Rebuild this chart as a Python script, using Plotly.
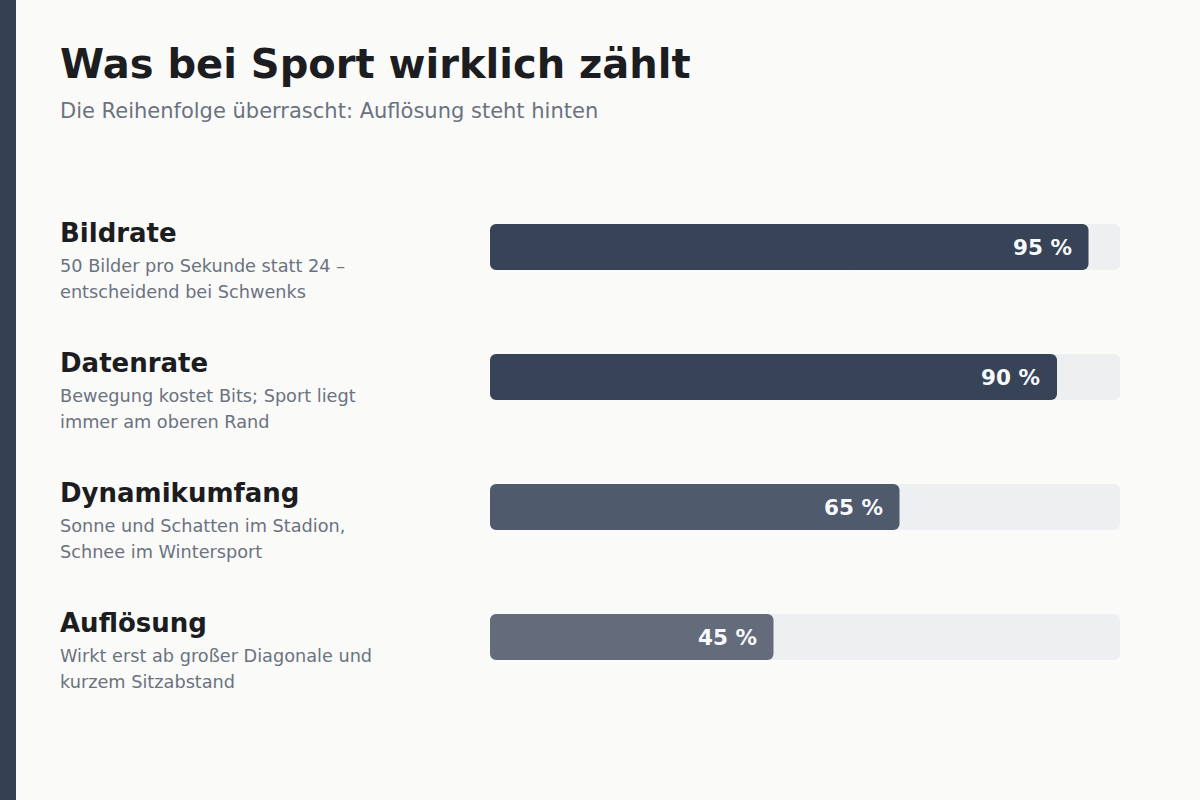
import plotly.graph_objects as go

# ---- data ----
categories = ["Bildrate", "Datenrate", "Dynamikumfang", "Auflösung"]
values = [95, 90, 65, 45]
descriptions = [
    ["50 Bilder pro Sekunde statt 24 –", "entscheidend bei Schwenks"],
    ["Bewegung kostet Bits; Sport liegt", "immer am oberen Rand"],
    ["Sonne und Schatten im Stadion,", "Schnee im Wintersport"],
    ["Wirkt erst ab großer Diagonale und", "kurzem Sitzabstand"],
]
track_max = 100
title_text = "Was bei Sport wirklich zählt"
subtitle_text = "Die Reihenfolge überrascht: Auflösung steht hinten"

# ---- styles ----
bar_colors = ["#374357", "#374357", "#4f5a6c", "#646c7c"]
track_color = "#eeeff1"
bg = "#fafaf9"
dark = "#1c1d20"
gray = "#6b7280"
FONT = "DejaVu Sans"
BAR_W = 0.354
TX = 58  # left text edge in px

W, H = 1200, 800

fig = go.Figure()


def add_rounded(xvals, colors):
    """Bars rounded on both ends: two overlapping halves growing outward."""
    right_base = [v * 0.4 for v in xvals]
    left_base = [v * 0.6 for v in xvals]
    fig.add_trace(go.Bar(
        y=categories, base=right_base, x=[v - b for v, b in zip(xvals, right_base)],
        orientation="h", marker=dict(color=colors, line=dict(width=0)),
        width=BAR_W, hoverinfo="skip", showlegend=False,
    ))
    fig.add_trace(go.Bar(
        y=categories, base=left_base, x=[-b for b in left_base],
        orientation="h", marker=dict(color=colors, line=dict(width=0)),
        width=BAR_W, hoverinfo="skip", showlegend=False,
    ))


add_rounded([track_max] * len(categories), [track_color] * len(categories))
add_rounded(values, bar_colors)

annotations = []
annotations.append(dict(
    text=f"<b>{title_text}</b>", xref="paper", yref="paper",
    x=TX / W, y=1 - 64 / H, xanchor="left", yanchor="middle",
    showarrow=False, font=dict(family=FONT, size=40, color=dark),
))
annotations.append(dict(
    text=subtitle_text, xref="paper", yref="paper",
    x=TX / W, y=1 - 111 / H, xanchor="left", yanchor="middle",
    showarrow=False, font=dict(family=FONT, size=21, color=gray),
))

for cat, val, desc in zip(categories, values, descriptions):
    annotations.append(dict(
        text=f"<b>{cat}</b>", xref="paper", yref="y",
        x=TX / W, y=cat, yshift=14, xanchor="left", yanchor="middle",
        showarrow=False, font=dict(family=FONT, size=26, color=dark),
    ))
    for i, line in enumerate(desc):
        annotations.append(dict(
            text=line, xref="paper", yref="y",
            x=TX / W, y=cat, yshift=-19 - 25.5 * i, xanchor="left", yanchor="middle",
            showarrow=False, font=dict(family=FONT, size=17.7, color=gray),
        ))
    annotations.append(dict(
        text=f"<b>{val} %</b>", xref="x", yref="y",
        x=val, y=cat, xshift=-15, xanchor="right", yanchor="middle",
        showarrow=False, font=dict(family=FONT, size=21.5, color="#f8f9fb"),
    ))

fig.update_layout(
    width=W, height=H,
    margin=dict(l=0, r=0, t=0, b=0),
    paper_bgcolor=bg, plot_bgcolor=bg,
    barmode="overlay", barcornerradius=6,
    xaxis=dict(domain=[490 / W, 1120 / W], range=[0, track_max],
               visible=False, fixedrange=True),
    yaxis=dict(domain=[1 - 702 / H, 1 - 182 / H], type="category",
               categoryorder="array", categoryarray=categories,
               autorange="reversed", visible=False, fixedrange=True),
    annotations=annotations,
    shapes=[dict(type="rect", xref="paper", yref="paper",
                 x0=0, x1=16 / W, y0=0, y1=1,
                 fillcolor="#334152", line=dict(width=0), layer="above")],
    font=dict(family=FONT),
)

fig.write_html(
    "out.html",
    config={"displayModeBar": False},
    post_script="document.body.style.margin='0';document.body.style.background='%s';" % bg,
)
